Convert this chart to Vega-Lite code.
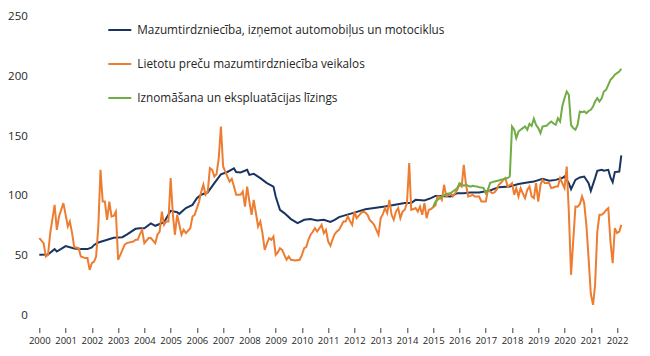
{
  "$schema": "https://vega.github.io/schema/vega-lite/v6.json",
  "width": 582,
  "height": 299,
  "autosize": {"type": "none"},
  "padding": {"left": 39.3, "top": 16.5, "right": 28.7, "bottom": 40.5},
  "background": "white",
  "config": {
    "view": {"stroke": null},
    "font": "Open Sans",
    "axis": {"labelFont": "Open Sans", "labelColor": "#262626", "title": null, "grid": false}
  },
  "datasets": {
    "names": [
      {"k": "m", "name": "Mazumtirdzniecība, izņemot automobiļus un motociklus"},
      {"k": "l", "name": "Lietotu preču mazumtirdzniecība veikalos"},
      {"k": "i", "name": "Iznomāšana un ekspluatācijas līzings"}
    ]
  },
  "layer": [
    {
      "mark": {"type": "rule", "color": "#d9d9d9", "strokeWidth": 1},
      "encoding": {"y": {"datum": 0, "type": "quantitative", "scale": {"domain": [0, 250], "nice": false}}}
    },
    {
      "data": {
        "values": [
          {"k":"m","d":"2000-01","v":50.7},{"k":"m","d":"2000-05","v":51},{"k":"m","d":"2000-08","v":55.5},{"k":"m","d":"2000-09","v":53.5},
          {"k":"m","d":"2001-01","v":58},{"k":"m","d":"2001-05","v":56},{"k":"m","d":"2001-08","v":55.5},{"k":"m","d":"2001-11","v":55.5},
          {"k":"m","d":"2002-01","v":57},{"k":"m","d":"2002-02","v":59},{"k":"m","d":"2002-04","v":61},{"k":"m","d":"2002-07","v":62.7},{"k":"m","d":"2002-11","v":65},
          {"k":"m","d":"2003-03","v":65.5},{"k":"m","d":"2003-05","v":67.7},{"k":"m","d":"2003-09","v":72.5},{"k":"m","d":"2003-11","v":73},
          {"k":"m","d":"2004-01","v":73},{"k":"m","d":"2004-04","v":77},{"k":"m","d":"2004-06","v":75},{"k":"m","d":"2004-10","v":78},
          {"k":"m","d":"2005-01","v":87.5},{"k":"m","d":"2005-04","v":86.4},{"k":"m","d":"2005-05","v":85},{"k":"m","d":"2005-08","v":89.8},{"k":"m","d":"2005-11","v":92.5},
          {"k":"m","d":"2006-01","v":98},{"k":"m","d":"2006-03","v":101},{"k":"m","d":"2006-06","v":103},{"k":"m","d":"2006-09","v":110.7},{"k":"m","d":"2006-12","v":118},
          {"k":"m","d":"2007-03","v":120},{"k":"m","d":"2007-06","v":123},{"k":"m","d":"2007-07","v":120},{"k":"m","d":"2007-09","v":119.6},{"k":"m","d":"2007-12","v":121.8},
          {"k":"m","d":"2008-01","v":117.6},{"k":"m","d":"2008-03","v":118.5},{"k":"m","d":"2008-06","v":114.9},{"k":"m","d":"2008-09","v":110.7},{"k":"m","d":"2008-12","v":107.8},
          {"k":"m","d":"2009-01","v":99.5},{"k":"m","d":"2009-03","v":88.4},{"k":"m","d":"2009-05","v":85.6},{"k":"m","d":"2009-08","v":80.6},{"k":"m","d":"2009-11","v":77.2},
          {"k":"m","d":"2010-02","v":80},{"k":"m","d":"2010-05","v":80.6},{"k":"m","d":"2010-08","v":79.4},{"k":"m","d":"2010-11","v":80},
          {"k":"m","d":"2011-02","v":78.3},{"k":"m","d":"2011-04","v":80},{"k":"m","d":"2011-06","v":82.3},{"k":"m","d":"2011-09","v":83.9},
          {"k":"m","d":"2012-01","v":86},{"k":"m","d":"2012-06","v":88.9},{"k":"m","d":"2012-10","v":89.8},
          {"k":"m","d":"2013-03","v":91.1},{"k":"m","d":"2013-07","v":92.3},{"k":"m","d":"2013-12","v":94},
          {"k":"m","d":"2014-03","v":94},{"k":"m","d":"2014-05","v":96.7},{"k":"m","d":"2014-09","v":96.1},{"k":"m","d":"2014-12","v":98.1},
          {"k":"m","d":"2015-02","v":100},{"k":"m","d":"2015-04","v":100},{"k":"m","d":"2015-09","v":99.5},{"k":"m","d":"2015-12","v":102.3},
          {"k":"m","d":"2016-03","v":102.3},{"k":"m","d":"2016-06","v":102.8},{"k":"m","d":"2016-10","v":102.8},
          {"k":"m","d":"2017-03","v":104.5},{"k":"m","d":"2017-07","v":107.3},{"k":"m","d":"2017-12","v":107.8},
          {"k":"m","d":"2018-04","v":110},{"k":"m","d":"2018-08","v":111.2},{"k":"m","d":"2018-11","v":112},{"k":"m","d":"2018-12","v":112.6},
          {"k":"m","d":"2019-03","v":114.3},{"k":"m","d":"2019-06","v":112.6},{"k":"m","d":"2019-09","v":113.4},{"k":"m","d":"2019-12","v":114.9},
          {"k":"m","d":"2020-01","v":116.2},{"k":"m","d":"2020-03","v":110.7},{"k":"m","d":"2020-04","v":105.7},{"k":"m","d":"2020-06","v":113.4},{"k":"m","d":"2020-08","v":115.4},{"k":"m","d":"2020-10","v":116.2},{"k":"m","d":"2020-12","v":110.7},
          {"k":"m","d":"2021-01","v":104.2},{"k":"m","d":"2021-03","v":114.9},{"k":"m","d":"2021-04","v":121},{"k":"m","d":"2021-06","v":121.8},{"k":"m","d":"2021-07","v":121},{"k":"m","d":"2021-09","v":121.8},{"k":"m","d":"2021-10","v":115.4},{"k":"m","d":"2021-11","v":111.5},{"k":"m","d":"2021-12","v":119.9},
          {"k":"m","d":"2022-02","v":120.4},{"k":"m","d":"2022-03","v":133.8},

          {"k":"l","d":"2000-01","v":64.7},{"k":"l","d":"2000-03","v":60.5},{"k":"l","d":"2000-04","v":49.3},{"k":"l","d":"2000-05","v":50.7},{"k":"l","d":"2000-06","v":68.9},{"k":"l","d":"2000-08","v":92.5},{"k":"l","d":"2000-09","v":71.6},{"k":"l","d":"2000-10","v":82.8},{"k":"l","d":"2000-12","v":94},
          {"k":"l","d":"2001-02","v":74.4},{"k":"l","d":"2001-03","v":78.6},{"k":"l","d":"2001-04","v":68.9},{"k":"l","d":"2001-05","v":57.2},{"k":"l","d":"2001-07","v":56.3},{"k":"l","d":"2001-08","v":49.3},{"k":"l","d":"2001-10","v":48},{"k":"l","d":"2001-11","v":48},{"k":"l","d":"2001-12","v":38.2},
          {"k":"l","d":"2002-01","v":43.8},{"k":"l","d":"2002-02","v":45.1},{"k":"l","d":"2002-03","v":49.3},{"k":"l","d":"2002-04","v":74.4},{"k":"l","d":"2002-05","v":121.8},{"k":"l","d":"2002-06","v":95.3},{"k":"l","d":"2002-07","v":95.3},{"k":"l","d":"2002-08","v":80},{"k":"l","d":"2002-09","v":95.3},{"k":"l","d":"2002-10","v":82.8},{"k":"l","d":"2002-11","v":83.3},{"k":"l","d":"2002-12","v":86.9},
          {"k":"l","d":"2003-01","v":46.6},{"k":"l","d":"2003-02","v":50.7},{"k":"l","d":"2003-04","v":59.1},{"k":"l","d":"2003-05","v":60.5},{"k":"l","d":"2003-08","v":61.9},{"k":"l","d":"2003-09","v":63.3},{"k":"l","d":"2003-10","v":63.3},{"k":"l","d":"2003-11","v":68},{"k":"l","d":"2003-12","v":71.6},
          {"k":"l","d":"2004-01","v":60.5},{"k":"l","d":"2004-03","v":64.7},{"k":"l","d":"2004-04","v":64.7},{"k":"l","d":"2004-06","v":60.5},{"k":"l","d":"2004-07","v":67.5},{"k":"l","d":"2004-08","v":70.2},{"k":"l","d":"2004-09","v":86.9},{"k":"l","d":"2004-10","v":75.8},{"k":"l","d":"2004-11","v":78.6},{"k":"l","d":"2004-12","v":78.6},
          {"k":"l","d":"2005-01","v":114.9},{"k":"l","d":"2005-02","v":84.2},{"k":"l","d":"2005-03","v":67.5},{"k":"l","d":"2005-04","v":84.2},{"k":"l","d":"2005-06","v":67.5},{"k":"l","d":"2005-07","v":71.6},{"k":"l","d":"2005-08","v":68.9},{"k":"l","d":"2005-10","v":73},{"k":"l","d":"2005-11","v":82.8},{"k":"l","d":"2005-12","v":84.2},
          {"k":"l","d":"2006-02","v":95.3},{"k":"l","d":"2006-03","v":103.2},{"k":"l","d":"2006-04","v":109.3},{"k":"l","d":"2006-05","v":100.9},{"k":"l","d":"2006-06","v":103.7},{"k":"l","d":"2006-07","v":123.2},{"k":"l","d":"2006-08","v":121.8},{"k":"l","d":"2006-09","v":116.2},{"k":"l","d":"2006-10","v":118.2},{"k":"l","d":"2006-11","v":131.6},{"k":"l","d":"2006-12","v":158},
          {"k":"l","d":"2007-01","v":124.6},{"k":"l","d":"2007-03","v":116.2},{"k":"l","d":"2007-04","v":112},{"k":"l","d":"2007-05","v":114.3},{"k":"l","d":"2007-06","v":107.8},{"k":"l","d":"2007-07","v":100.9},{"k":"l","d":"2007-08","v":100.9},{"k":"l","d":"2007-09","v":100.9},{"k":"l","d":"2007-10","v":103.7},{"k":"l","d":"2007-11","v":91.1},{"k":"l","d":"2007-12","v":107.8},
          {"k":"l","d":"2008-01","v":95.3},{"k":"l","d":"2008-02","v":84.2},{"k":"l","d":"2008-03","v":96.7},{"k":"l","d":"2008-04","v":85.6},{"k":"l","d":"2008-05","v":74.4},{"k":"l","d":"2008-06","v":78.6},{"k":"l","d":"2008-07","v":68.9},{"k":"l","d":"2008-08","v":54.9},{"k":"l","d":"2008-09","v":60},{"k":"l","d":"2008-10","v":64.7},{"k":"l","d":"2008-11","v":63.3},{"k":"l","d":"2008-12","v":66},
          {"k":"l","d":"2009-01","v":50.7},{"k":"l","d":"2009-02","v":53},{"k":"l","d":"2009-03","v":56.3},{"k":"l","d":"2009-04","v":54.9},{"k":"l","d":"2009-05","v":50.7},{"k":"l","d":"2009-06","v":46.6},{"k":"l","d":"2009-07","v":49.3},{"k":"l","d":"2009-08","v":46.6},{"k":"l","d":"2009-10","v":46},{"k":"l","d":"2009-12","v":46.6},
          {"k":"l","d":"2010-01","v":50.7},{"k":"l","d":"2010-02","v":56.3},{"k":"l","d":"2010-03","v":57.2},{"k":"l","d":"2010-04","v":63.3},{"k":"l","d":"2010-05","v":67.5},{"k":"l","d":"2010-06","v":70},{"k":"l","d":"2010-07","v":73},{"k":"l","d":"2010-08","v":70.2},{"k":"l","d":"2010-09","v":73},{"k":"l","d":"2010-10","v":75.8},{"k":"l","d":"2010-11","v":68.9},{"k":"l","d":"2010-12","v":71.6},
          {"k":"l","d":"2011-01","v":61.9},{"k":"l","d":"2011-02","v":58.3},{"k":"l","d":"2011-03","v":63.3},{"k":"l","d":"2011-04","v":68},{"k":"l","d":"2011-05","v":70.2},{"k":"l","d":"2011-06","v":71.6},{"k":"l","d":"2011-08","v":78.6},{"k":"l","d":"2011-09","v":78.6},{"k":"l","d":"2011-10","v":82.8},{"k":"l","d":"2011-11","v":79},{"k":"l","d":"2011-12","v":75.8},
          {"k":"l","d":"2012-01","v":86.9},{"k":"l","d":"2012-02","v":81.4},{"k":"l","d":"2012-04","v":85.6},{"k":"l","d":"2012-05","v":86.9},{"k":"l","d":"2012-06","v":86},{"k":"l","d":"2012-07","v":84.2},{"k":"l","d":"2012-08","v":80},{"k":"l","d":"2012-09","v":78},{"k":"l","d":"2012-10","v":75.8},{"k":"l","d":"2012-11","v":71.6},{"k":"l","d":"2012-12","v":67.5},
          {"k":"l","d":"2013-01","v":81.4},{"k":"l","d":"2013-02","v":85},{"k":"l","d":"2013-03","v":89.8},{"k":"l","d":"2013-04","v":85.6},{"k":"l","d":"2013-05","v":96.7},{"k":"l","d":"2013-06","v":84.2},{"k":"l","d":"2013-07","v":80},{"k":"l","d":"2013-08","v":86.9},{"k":"l","d":"2013-09","v":89.8},{"k":"l","d":"2013-10","v":81.4},{"k":"l","d":"2013-11","v":86.9},{"k":"l","d":"2013-12","v":88.4},
          {"k":"l","d":"2014-01","v":94},{"k":"l","d":"2014-02","v":127.4},{"k":"l","d":"2014-03","v":88.4},{"k":"l","d":"2014-04","v":89},{"k":"l","d":"2014-05","v":89.8},{"k":"l","d":"2014-06","v":86.9},{"k":"l","d":"2014-07","v":91.1},{"k":"l","d":"2014-08","v":84.2},{"k":"l","d":"2014-09","v":94},{"k":"l","d":"2014-10","v":81.4},{"k":"l","d":"2014-11","v":88.4},{"k":"l","d":"2014-12","v":89},
          {"k":"l","d":"2015-01","v":90.6},{"k":"l","d":"2015-02","v":92},{"k":"l","d":"2015-03","v":99.5},{"k":"l","d":"2015-04","v":99.5},{"k":"l","d":"2015-05","v":96.7},{"k":"l","d":"2015-06","v":109.3},{"k":"l","d":"2015-07","v":99.5},{"k":"l","d":"2015-08","v":101},{"k":"l","d":"2015-09","v":102.3},{"k":"l","d":"2015-10","v":99.5},{"k":"l","d":"2015-11","v":102},{"k":"l","d":"2015-12","v":105.1},
          {"k":"l","d":"2016-01","v":109.3},{"k":"l","d":"2016-02","v":107.8},{"k":"l","d":"2016-03","v":126},{"k":"l","d":"2016-04","v":109.3},{"k":"l","d":"2016-05","v":99.5},{"k":"l","d":"2016-06","v":100},{"k":"l","d":"2016-07","v":100.9},{"k":"l","d":"2016-08","v":99.5},{"k":"l","d":"2016-09","v":99.5},{"k":"l","d":"2016-10","v":99.5},{"k":"l","d":"2016-11","v":95.3},{"k":"l","d":"2016-12","v":95.3},
          {"k":"l","d":"2017-01","v":95.3},{"k":"l","d":"2017-02","v":105.1},{"k":"l","d":"2017-03","v":103.7},{"k":"l","d":"2017-04","v":102.3},{"k":"l","d":"2017-05","v":103},{"k":"l","d":"2017-06","v":105.1},{"k":"l","d":"2017-07","v":109.3},{"k":"l","d":"2017-08","v":111},{"k":"l","d":"2017-09","v":113.4},{"k":"l","d":"2017-10","v":114.9},{"k":"l","d":"2017-11","v":107.8},{"k":"l","d":"2017-12","v":109},
          {"k":"l","d":"2018-01","v":110.7},{"k":"l","d":"2018-02","v":100.9},{"k":"l","d":"2018-03","v":106.5},{"k":"l","d":"2018-04","v":99.5},{"k":"l","d":"2018-05","v":106.5},{"k":"l","d":"2018-06","v":102},{"k":"l","d":"2018-07","v":98.1},{"k":"l","d":"2018-08","v":105},{"k":"l","d":"2018-09","v":107.8},{"k":"l","d":"2018-10","v":99.5},{"k":"l","d":"2018-11","v":98.1},{"k":"l","d":"2018-12","v":110.7},
          {"k":"l","d":"2019-01","v":95.3},{"k":"l","d":"2019-02","v":109.3},{"k":"l","d":"2019-03","v":113.4},{"k":"l","d":"2019-04","v":110.7},{"k":"l","d":"2019-05","v":110.7},{"k":"l","d":"2019-06","v":110.7},{"k":"l","d":"2019-07","v":106.5},{"k":"l","d":"2019-08","v":107},{"k":"l","d":"2019-09","v":107.8},{"k":"l","d":"2019-10","v":107.8},{"k":"l","d":"2019-11","v":114.9},{"k":"l","d":"2019-12","v":110.7},
          {"k":"l","d":"2020-01","v":106.5},{"k":"l","d":"2020-02","v":124.6},{"k":"l","d":"2020-03","v":86.9},{"k":"l","d":"2020-04","v":34},{"k":"l","d":"2020-05","v":62},{"k":"l","d":"2020-06","v":91.1},{"k":"l","d":"2020-07","v":91},{"k":"l","d":"2020-08","v":93},{"k":"l","d":"2020-09","v":99.5},{"k":"l","d":"2020-10","v":94},{"k":"l","d":"2020-11","v":75},{"k":"l","d":"2020-12","v":48},
          {"k":"l","d":"2021-01","v":18},{"k":"l","d":"2021-02","v":8.9},{"k":"l","d":"2021-03","v":25},{"k":"l","d":"2021-04","v":70},{"k":"l","d":"2021-05","v":84.2},{"k":"l","d":"2021-06","v":84.2},{"k":"l","d":"2021-07","v":85.6},{"k":"l","d":"2021-08","v":88},{"k":"l","d":"2021-09","v":89.8},{"k":"l","d":"2021-10","v":61.9},{"k":"l","d":"2021-11","v":43.8},{"k":"l","d":"2021-12","v":73},
          {"k":"l","d":"2022-01","v":68.9},{"k":"l","d":"2022-02","v":70.2},{"k":"l","d":"2022-03","v":75.8},

          {"k":"i","d":"2015-01","v":91},{"k":"i","d":"2015-02","v":95.3},{"k":"i","d":"2015-03","v":96.7},{"k":"i","d":"2015-04","v":98},{"k":"i","d":"2015-05","v":99.5},{"k":"i","d":"2015-06","v":100.5},{"k":"i","d":"2015-07","v":101.7},{"k":"i","d":"2015-08","v":102},{"k":"i","d":"2015-09","v":102.3},{"k":"i","d":"2015-10","v":103.7},{"k":"i","d":"2015-11","v":105},{"k":"i","d":"2015-12","v":106.5},
          {"k":"i","d":"2016-01","v":110.7},{"k":"i","d":"2016-02","v":109.5},{"k":"i","d":"2016-03","v":108.5},{"k":"i","d":"2016-04","v":109.3},{"k":"i","d":"2016-05","v":108.5},{"k":"i","d":"2016-06","v":107.8},{"k":"i","d":"2016-07","v":108.5},{"k":"i","d":"2016-08","v":108},{"k":"i","d":"2016-09","v":107.8},{"k":"i","d":"2016-10","v":107.3},{"k":"i","d":"2016-11","v":107},{"k":"i","d":"2016-12","v":106.5},
          {"k":"i","d":"2017-01","v":102.3},{"k":"i","d":"2017-02","v":105.1},{"k":"i","d":"2017-03","v":110.7},{"k":"i","d":"2017-04","v":111.5},{"k":"i","d":"2017-05","v":112},{"k":"i","d":"2017-06","v":112.5},{"k":"i","d":"2017-07","v":112.9},{"k":"i","d":"2017-08","v":113.5},{"k":"i","d":"2017-09","v":114},{"k":"i","d":"2017-10","v":114.5},{"k":"i","d":"2017-11","v":114.9},{"k":"i","d":"2017-12","v":116.2},
          {"k":"i","d":"2018-01","v":158},{"k":"i","d":"2018-02","v":155.3},{"k":"i","d":"2018-03","v":148.3},{"k":"i","d":"2018-04","v":153.8},{"k":"i","d":"2018-05","v":155.3},{"k":"i","d":"2018-06","v":156.7},{"k":"i","d":"2018-07","v":158},{"k":"i","d":"2018-08","v":155.3},{"k":"i","d":"2018-09","v":160.3},{"k":"i","d":"2018-10","v":158.5},{"k":"i","d":"2018-11","v":164.5},{"k":"i","d":"2018-12","v":159.5},
          {"k":"i","d":"2019-01","v":156.7},{"k":"i","d":"2019-02","v":152.5},{"k":"i","d":"2019-03","v":158},{"k":"i","d":"2019-04","v":158.5},{"k":"i","d":"2019-05","v":158.8},{"k":"i","d":"2019-06","v":160.8},{"k":"i","d":"2019-07","v":162.2},{"k":"i","d":"2019-08","v":160.5},{"k":"i","d":"2019-09","v":159.4},{"k":"i","d":"2019-10","v":165},{"k":"i","d":"2019-11","v":162.2},{"k":"i","d":"2019-12","v":174.7},
          {"k":"i","d":"2020-01","v":181.7},{"k":"i","d":"2020-02","v":187.3},{"k":"i","d":"2020-03","v":184.5},{"k":"i","d":"2020-04","v":159.4},{"k":"i","d":"2020-05","v":156.7},{"k":"i","d":"2020-06","v":155.3},{"k":"i","d":"2020-07","v":159.4},{"k":"i","d":"2020-08","v":170.6},{"k":"i","d":"2020-09","v":170},{"k":"i","d":"2020-10","v":170.6},{"k":"i","d":"2020-11","v":169.2},{"k":"i","d":"2020-12","v":171},
          {"k":"i","d":"2021-01","v":172},{"k":"i","d":"2021-02","v":174.7},{"k":"i","d":"2021-03","v":178.9},{"k":"i","d":"2021-04","v":181.7},{"k":"i","d":"2021-05","v":178.9},{"k":"i","d":"2021-06","v":181.7},{"k":"i","d":"2021-07","v":187.3},{"k":"i","d":"2021-08","v":188.7},{"k":"i","d":"2021-09","v":192.9},{"k":"i","d":"2021-10","v":197.1},{"k":"i","d":"2021-11","v":199},{"k":"i","d":"2021-12","v":201.3},
          {"k":"i","d":"2022-01","v":202.7},{"k":"i","d":"2022-02","v":204},{"k":"i","d":"2022-03","v":206.3}
        ]
      },
      "transform": [
        {"lookup": "k", "from": {"data": {"name": "names"}, "key": "k", "fields": ["name"]}}
      ],
      "mark": {"type": "line", "strokeWidth": 2, "interpolate": "linear"},
      "encoding": {
        "x": {
          "field": "d", "type": "temporal",
          "scale": {"type": "utc", "domain": [{"year": 2000, "month": 1, "date": 1, "utc": true}, {"year": 2022, "month": 3, "date": 1, "utc": true}], "nice": false},
          "axis": {
            "format": "%Y", "formatType": "utc",
            "tickCount": {"interval": "year", "step": 1},
            "domain": false, "offset": 12, "tickSize": 5, "tickColor": "#404040", "tickWidth": 1,
            "labelFontSize": 9.5, "labelPadding": 3, "labelFlush": false, "labelOverlap": false
          }
        },
        "y": {
          "field": "v", "type": "quantitative",
          "scale": {"domain": [0, 250], "nice": false},
          "axis": {"values": [0, 50, 100, 150, 200, 250], "ticks": false, "domain": false, "labelPadding": 12, "labelFontSize": 11.5}
        },
        "color": {
          "field": "name", "type": "nominal",
          "scale": {
            "domain": ["Mazumtirdzniecība, izņemot automobiļus un motociklus", "Lietotu preču mazumtirdzniecība veikalos", "Iznomāšana un ekspluatācijas līzings"],
            "range": ["#1a3461", "#ed7d31", "#70ad47"]
          },
          "legend": {
            "title": null, "orient": "none", "legendX": 68, "legendY": 1, "padding": 0,
            "symbolType": "stroke", "symbolSize": 529, "symbolStrokeWidth": 2,
            "labelFontSize": 11.75, "labelFont": "Open Sans", "labelColor": "#262626", "labelOffset": 5,
            "rowPadding": 14, "labelLimit": 400
          }
        },
        "order": {"field": "d"}
      }
    }
  ]
}
